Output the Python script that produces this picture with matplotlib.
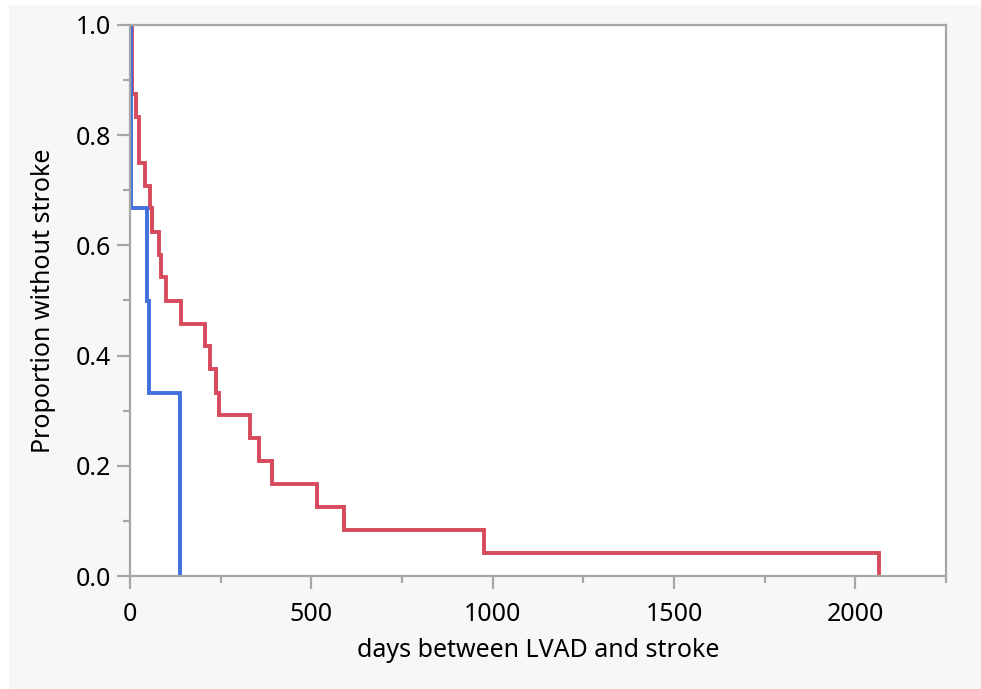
import matplotlib.pyplot as plt
from matplotlib.patches import Rectangle
from matplotlib.ticker import MultipleLocator


# Kaplan-Meier step data: event day and proportion remaining after it
RED_DAYS = [0, 6, 16, 26, 41, 55, 62, 81, 85, 98, 142, 207, 221, 236, 245,
            331, 356, 391, 515, 590, 975, 2066]
RED_SURV = [1.0, 0.875, 0.833, 0.75, 0.708, 0.667, 0.625, 0.583, 0.542, 0.5,
            0.458, 0.417, 0.375, 0.333, 0.292, 0.25, 0.208, 0.167, 0.125,
            0.083, 0.042, 0.0]

BLUE_DAYS = [0, 2, 46, 52, 138]
BLUE_SURV = [1.0, 0.667, 0.5, 0.333, 0.0]

RED_COLOR   = "#D64A5B"
BLUE_COLOR  = "#4271DD"
FRAME_COLOR = "#A6A6A6"
PANEL_COLOR = "#F7F7F7"

X_LABEL = "days between LVAD and stroke"
Y_LABEL = "Proportion without stroke"


def main():
    plt.rcParams["font.family"] = ["Noto Sans", "DejaVu Sans"]

    fig = plt.figure(figsize=(9.81, 6.89), dpi=100, facecolor="white")
    W, H = 981, 689
    fig.patches.append(Rectangle((9 / W, 0), 1 - 9 / W, 1 - 5 / H,
                                 transform=fig.transFigure,
                                 facecolor=PANEL_COLOR, edgecolor="none",
                                 zorder=-10))

    ax = fig.add_axes([130 / W, 113 / H, (946 - 130) / W, (576 - 25) / H])
    ax.set_facecolor("white")

    ax.plot(RED_DAYS, RED_SURV, drawstyle="steps-post",
            color=RED_COLOR, linewidth=2.8, solid_joinstyle="miter")
    ax.plot(BLUE_DAYS, BLUE_SURV, drawstyle="steps-post",
            color=BLUE_COLOR, linewidth=2.8, solid_joinstyle="miter")

    ax.set_xlim(0, 2250)
    ax.set_ylim(0, 1.0)
    ax.xaxis.set_major_locator(MultipleLocator(500))
    ax.xaxis.set_minor_locator(MultipleLocator(250))
    ax.yaxis.set_major_locator(MultipleLocator(0.2))
    ax.yaxis.set_minor_locator(MultipleLocator(0.1))
    ax.yaxis.set_major_formatter(lambda v, _: f"{v:.1f}")

    for spine in ax.spines.values():
        spine.set_color(FRAME_COLOR)
        spine.set_linewidth(1.6)

    ax.tick_params(which="major", length=9.5, width=1.6, color=FRAME_COLOR,
                   labelsize=18, labelcolor="black", pad=4)
    ax.tick_params(which="minor", length=5, width=1.6, color=FRAME_COLOR)
    ax.tick_params(axis="x", which="major", pad=9)

    ax.set_xlabel(X_LABEL, fontsize=18, labelpad=8)
    ax.set_ylabel(Y_LABEL, fontsize=18, labelpad=14)

    fig.savefig("out.png", dpi=100, facecolor=fig.get_facecolor())
    plt.close(fig)


if __name__ == "__main__":
    main()
